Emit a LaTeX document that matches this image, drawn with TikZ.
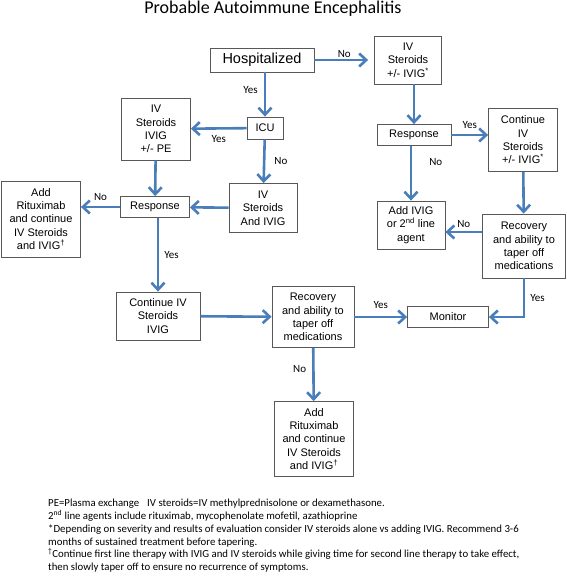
\documentclass[tikz,border=0pt]{standalone}
\usepackage{fontspec}
\setmainfont{Liberation Sans}
\newfontfamily\calibrifont{Carlito}
\usetikzlibrary{arrows.meta,positioning,calc}
\definecolor{flowBlue}{RGB}{74,126,187}
\definecolor{boxGray}{RGB}{88,88,88}

\begin{document}
\begin{tikzpicture}[x=1pt, y=-1pt,
    box/.style={draw=boxGray, line width=0.8pt, fill=white, align=center, inner sep=1pt,
      font=\fontsize{11}{13.3}\selectfont},
    boxsize/.style 2 args={minimum width=#1pt, minimum height=#2pt},
    lbl/.style={text=black, font=\calibrifont\fontsize{11}{12}\selectfont, inner sep=1pt},
    notes/.style={font=\calibrifont\fontsize{10.8}{12.8}\selectfont, align=left, inner sep=0pt},
    flow/.style={flowBlue, line width=2.6pt, -{Straight Barb[length=7pt,width=13pt]}}]
  \fill[white] (0,0) rectangle (567,581);
  \useasboundingbox (0,0) rectangle (567,581);
  \node[font=\calibrifont\fontsize{18}{20}\selectfont] (title) at (273,9) {Probable Autoimmune Encephalitis};
  % top row
  \node[box, font=\fontsize{14.5}{17}\selectfont, boxsize={104}{24}] (hosp) at (262,60) {Hospitalized};
  \node[box, boxsize={67}{48}] (ivsr) at (408,60) {IV\\Steroids\\+/- IVIG\textsuperscript{*}};
  % hospitalized branch
  \node[box, boxsize={36}{22}] (icu) at (265,128) {ICU};
  \node[box, boxsize={69}{62}] (pe) at (156,129) {IV\\Steroids\\IVIG\\+/- PE};
  \node[box, boxsize={68}{49}] (ivig) at (263,208) {IV\\Steroids\\And IVIG};
  \node[box, boxsize={69}{21}] (respL) at (155,207) {Response};
  \node[box, boxsize={79}{76}] (addL) at (41,219) {Add\\Rituximab\\and continue\\IV Steroids\\and IVIG\textsuperscript{\textdagger}};
  \node[box, boxsize={84}{48}] (contL) at (158,316) {Continue IV\\Steroids\\IVIG};
  \node[box, boxsize={82}{61}] (recM) at (313,317) {Recovery\\and ability to\\taper off\\medications};
  \node[box, boxsize={79}{75}] (addB) at (314,439) {Add\\Rituximab\\and continue\\IV Steroids\\and IVIG\textsuperscript{\textdagger}};
  % outpatient branch
  \node[box, boxsize={74}{21}] (respR) at (414,135) {Response};
  \node[box, boxsize={69}{63}] (contR) at (523,140) {Continue\\IV\\Steroids\\+/- IVIG\textsuperscript{*}};
  \node[box, boxsize={68}{48}] (addR) at (411,225) {Add IVIG\\or 2\textsuperscript{nd} line\\agent};
  \node[box, boxsize={83}{64}] (recR) at (524,246) {Recovery\\and ability to\\taper off\\medications};
  \node[box, boxsize={81}{21}] (monitor) at (448,317) {Monitor};
  % connectors
  \draw[flow, shorten >=6pt] (hosp) -- node[lbl, above] {No} (ivsr);
  \draw[flow] (icu.north |- hosp.south) -- node[lbl, left=5pt, pos=0.4] {Yes} (icu.north);
  \draw[flow] (icu) -- node[lbl, below=5pt] {Yes} (pe);
  \draw[flow] (icu) -- node[lbl, right=8pt] {No} (ivig);
  \draw[flow] (pe) -- (respL);
  \draw[flow] (ivig) -- (respL);
  \draw[flow] (respL.west) -- node[lbl, above=4pt] {No} (respL.west -| addL.east);
  \draw[flow] (contL.north |- respL.south) -- node[lbl, right=4pt] {Yes} (contL.north);
  \draw[flow] (contL) -- (recM);
  \draw[flow] (recM) -- node[lbl, above=6pt] {Yes} (monitor);
  \draw[flow] (recM) -- node[lbl, left=5pt, pos=0.4] {No} (addB);
  \draw[flow] (respR.north |- ivsr.south) -- (respR.north);
  \draw[flow] (respR.east) -- node[lbl, above=4pt] {Yes} (respR.east -| contR.west);
  \draw[flow] (addR.north |- respR.south) -- node[lbl, right=16pt, pos=0.3] {No} (addR.north);
  \draw[flow] (contR) -- (recR);
  \coordinate (recIn) at ([yshift=14pt]recR.west);
  \draw[flow] (recIn) -- node[lbl, above=2pt] {No} (recIn -| addR.east);
  \draw[flow] (recR.south) |- node[lbl, right=4pt, pos=0.25] {Yes} (monitor.east);
  % footnotes
  \node[notes, anchor=north west] (notes) at (48,499) {PE=Plasma exchange\hspace{8pt}IV steroids=IV methylprednisolone or dexamethasone.\\
    2\textsuperscript{nd} line agents include rituximab, mycophenolate mofetil, azathioprine\\
    *Depending on severity and results of evaluation consider IV steroids alone vs adding IVIG. Recommend 3-6\\
    months of sustained treatment before tapering.\\
    \textsuperscript{\textdagger}Continue first line therapy with IVIG and IV steroids while giving time for second line therapy to take effect,\\
    then slowly taper off to ensure no recurrence of symptoms.};
\end{tikzpicture}
\end{document}
